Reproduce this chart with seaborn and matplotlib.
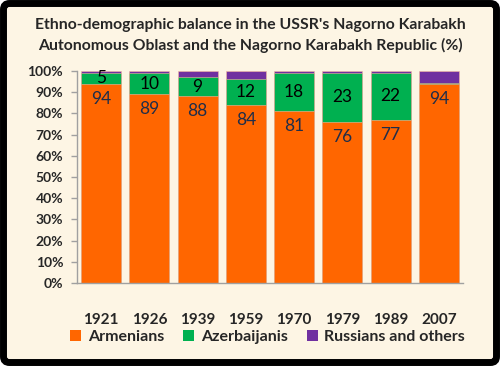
import numpy as np
import pandas as pd
import matplotlib
matplotlib.use("Agg")
import matplotlib.pyplot as plt
from matplotlib.patches import FancyBboxPatch, Patch
import seaborn as sns

# data
years = ["1921", "1926", "1939", "1959", "1970", "1979", "1989", "2007"]
armenians = [94, 89, 88, 84, 81, 76, 77, 94]
azerbaijanis = [5, 10, 9, 12, 18, 23, 22, 0.5]
others = [1, 1, 3, 4, 1, 1, 1, 5.5]
series = ["Armenians", "Azerbaijanis", "Russians and others"]
colors = ["#FF6600", "#00B050", "#7030A0"]

df = pd.DataFrame({"year": years, "arm": armenians, "az": azerbaijanis, "oth": others})
df["arm_az"] = df["arm"] + df["az"]
df["total"] = df["arm_az"] + df["oth"]

sns.set_style("white")
plt.rcParams["font.family"] = ["Lato", "DejaVu Sans"]

bg = "#FDF5E4"
fig = plt.figure(figsize=(5, 3.66), dpi=100)
fig.patch.set_facecolor("white")
frame = FancyBboxPatch((0.035, 0.035), 4.93, 3.59, boxstyle="round,pad=0,rounding_size=0.06",
                       transform=fig.dpi_scale_trans, facecolor=bg, edgecolor="black",
                       linewidth=5, zorder=-10)
fig.patches.append(frame)

ax = fig.add_axes([0.154, 0.227, 0.772, 0.579])
ax.set_facecolor("none")
ax.set_zorder(1)

edge = "#F4B8A0"
sns.barplot(data=df, x="year", y="total", color=colors[2], saturation=1, width=0.83,
            edgecolor=edge, linewidth=0.4, ax=ax)
sns.barplot(data=df, x="year", y="arm_az", color=colors[1], saturation=1, width=0.83,
            edgecolor=edge, linewidth=0.4, ax=ax)
sns.barplot(data=df, x="year", y="arm", color=colors[0], saturation=1, width=0.83,
            edgecolor=edge, linewidth=0.4, ax=ax)

for i, row in df.iterrows():
    ax.annotate(f"{row['arm']:.0f}", (i, row["arm"]), xytext=(0, -5), textcoords="offset points",
                ha="center", va="top", fontsize=12.5, color="#1F2D4A")
    if row["az"] >= 2:
        ax.text(i, row["arm"] + row["az"] / 2, f"{row['az']:.0f}", ha="center", va="center",
                fontsize=12.5, color="black")

ax.set_ylim(0, 100)
ax.set_xlim(-0.5, len(years) - 0.5)
ax.set_yticks(np.arange(0, 101, 10))
ax.set_yticklabels([f"{v}%" for v in range(0, 101, 10)], fontsize=10, fontweight="bold")
ax.set_xticks(range(len(years)))
ax.set_xticklabels(years, fontsize=11, fontweight="bold")
ax.set_xticks(np.arange(-0.5, len(years), 1), minor=True)
ax.tick_params(axis="x", which="major", length=0, pad=22)
ax.tick_params(axis="x", which="minor", length=4, color="#A0A0A0", width=1)
ax.tick_params(axis="y", length=4, color="#A0A0A0", width=1, pad=6, direction="out", left=True)
ax.set_xlabel("")
ax.set_ylabel("")
for s in ["top", "right"]:
    ax.spines[s].set_visible(False)
for s in ["left", "bottom"]:
    ax.spines[s].set_color("#A0A0A0")
    ax.spines[s].set_linewidth(1)

fig.text(0.5, 0.903, "Ethno-demographic balance in the USSR's Nagorno Karabakh\n"
         "Autonomous Oblast and the Nagorno Karabakh Republic (%)",
         ha="center", va="center", fontsize=11.3, fontweight="bold", linespacing=1.5)

handles = [Patch(facecolor=c, edgecolor="none") for c in colors]
fig.legend(handles, series, loc="center", bbox_to_anchor=(0.535, 0.08), ncol=3, frameon=False,
           prop={"size": 11.5, "weight": "bold"}, handlelength=0.7, handleheight=0.7,
           handletextpad=0.4, columnspacing=1.2)

fig.savefig("out.png", dpi=100, facecolor=fig.get_facecolor())
